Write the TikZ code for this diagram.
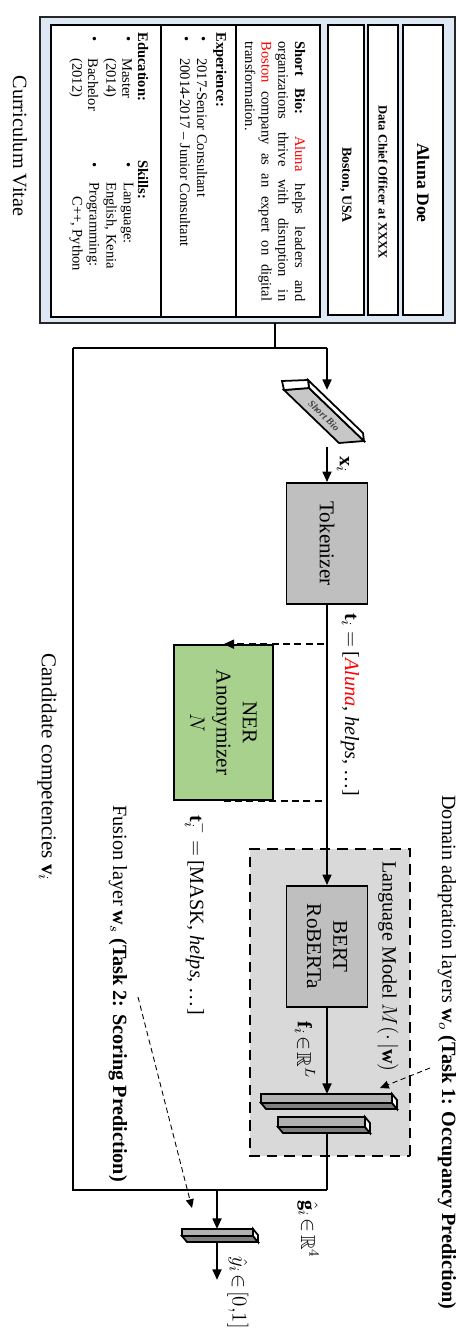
\documentclass[tikz,border=0pt]{standalone}
\usepackage{fontspec}
\setmainfont{Liberation Serif}
\usepackage{amssymb}
\usepackage{tikz}
\usetikzlibrary{arrows}
\usetikzlibrary{arrows.meta}
\usetikzlibrary{positioning}

\definecolor{cvblue}{HTML}{DDE8F4}
\definecolor{nergreen}{HTML}{A9D18E}
\newcommand{\lblfont}{\fontsize{11.5}{15}\selectfont}
\newcommand{\boxfont}{\fontsize{12}{15}\selectfont}
\newcommand{\cvfont}{\fontsize{8.3}{9.5}\selectfont}

% flat 3D layer: \layer{u}{v from}{v to}{thickness}
\newcommand{\layer}[4]{%
  \filldraw[fill=black!50, draw=black, line width=1pt] (#1+#4,#2) -- (#1+#4,#3) -- (#1+#4+6,#3+5) -- (#1+#4+6,#2+5) -- cycle;
  \filldraw[fill=white, draw=black, line width=1pt] (#1,#3) -- (#1+6,#3+5) -- (#1+#4+6,#3+5) -- (#1+#4,#3) -- cycle;
  \filldraw[fill=black!30, draw=black, line width=1pt] (#1,#2) rectangle (#1+#4,#3);
}

\begin{document}
\begin{tikzpicture}[>={Triangle[length=6pt,width=5pt]}, x=0.02cm, y=0.02cm]
  \tikzset{
    frame/.style={draw=black, line width=1pt, fill=white, inner sep=0pt},
    block/.style={draw=black, line width=1pt, fill=black!25, minimum width=2.42cm, minimum height=1.62cm, align=center, font=\boxfont},
    flow/.style={line width=1.3pt},
    branch/.style={line width=1.3pt, dash pattern=on 4pt off 2.5pt},
    pointer/.style={densely dashed, line width=0.5pt, -{Triangle[length=5pt,width=4.5pt]}},
    lbl/.style={anchor=west, inner sep=0pt, font=\lblfont},
    cvline/.style={anchor=west, inner sep=0pt, font=\cvfont},
    cvhead/.style={anchor=west, inner sep=0pt, font=\cvfont\bfseries}
  }
\begin{scope}[rotate=-90, transform shape]
  \useasboundingbox (0,0) rectangle (1331,461);

  % the CV card
  \node[draw=black!85, line width=1.3pt, fill=cvblue, minimum width=6.12cm, minimum height=8.3cm] (cv) at (170,247.5) {};
  \node[frame, minimum width=5.8cm, minimum height=0.8cm] (namebox) at (170,423) {};
  \node[frame, minimum width=5.8cm, minimum height=0.6cm] (jobbox) at (170,383) {};
  \node[frame, minimum width=5.8cm, minimum height=0.72cm] (citybox) at (170,346) {};
  \node[frame, minimum width=5.84cm, minimum height=5.38cm] (infobox) at (171,185.5) {};
  \draw[line width=1pt] (25,236) -- (317,236);
  \draw[line width=1pt] (25,161) -- (317,161);

  \node[font=\bfseries\fontsize{10}{12}\selectfont] (name) at (183,423) {Aluna Doe};
  \node[font=\bfseries\fontsize{7.2}{9}\selectfont] (job) at (182,383) {Data Chief Officer at XXXX};
  \node[font=\bfseries\fontsize{7.9}{9}\selectfont] (city) at (185,346) {Boston, USA};

  \node[cvline, align=left] (bio) at (41,275) {%
    \makebox[5.2cm][s]{\textbf{Short Bio:} \textcolor{red}{Aluna} helps leaders and}\\
    \makebox[5.2cm][s]{organizations thrive with disruption in}\\
    \makebox[5.2cm][s]{\textcolor{red}{Boston} company as an expert on digital}\\
    transformation.};

  \node[cvhead] (exphead) at (32,220) {Experience:};
  \node[cvline] (expdot1) at (36,202) {\textbullet};
  \node[cvline] (exp1) at (58,202) {2017-Senior Consultant};
  \node[cvline] (expdot2) at (36,185) {\textbullet};
  \node[cvline] (exp2) at (58,185) {20014-2017 – Junior Consultant};

  \node[cvhead] (eduhead) at (32,143) {Education:};
  \node[cvline] (edudot1) at (36,127) {\textbullet};
  \node[cvline] (edu1) at (58,127) {Master};
  \node[cvline] (edu2) at (58,110) {(2014)};
  \node[cvline] (edudot2) at (36,93) {\textbullet};
  \node[cvline] (edu3) at (58,93) {Bachelor};
  \node[cvline] (edu4) at (58,76) {(2012)};

  \node[cvhead] (skillhead) at (160,143) {Skills:};
  \node[cvline] (skilldot1) at (162,127) {\textbullet};
  \node[cvline] (skill1) at (182,127) {Language:};
  \node[cvline] (skill2) at (182,110) {English, Kenia};
  \node[cvline] (skilldot2) at (162,93) {\textbullet};
  \node[cvline] (skill3) at (182,93) {Programming:};
  \node[cvline] (skill4) at (196,76) {C++, Python};

  \node[font=\lblfont] (cvtitle) at (146,20) {Curriculum Vitae};

  % rails around the model
  \coordinate (cvout) at (323,275);
  \coordinate (split) at (348,275);
  \coordinate (railtop) at (348,73);
  \coordinate (railbio) at (348,327);
  \coordinate (railbot) at (1190,73);
  \coordinate (merge) at (1190,327);
  \coordinate (fuse) at (1190,217);
  \draw[flow] (cvout) -- (split);
  \draw[flow] (railtop) -- (railbio);
  \draw[flow] (railtop) -- (railbot) -- (merge);

  % short bio slab
  \filldraw[fill=black!22, draw=black, line width=1pt] (390,284) -- (388,309) -- (441,364) -- (443,339) -- cycle;
  \filldraw[fill=white, draw=black, line width=1pt] (380,308) -- (388,309) -- (441,364) -- (433,363) -- cycle;
  \filldraw[fill=white, draw=black, line width=1pt] (381,282) -- (380,308) -- (388,309) -- (390,284) -- cycle;
  \node[rotate=46, inner sep=0pt, font=\bfseries\itshape\fontsize{5.6}{6}\selectfont, text=black!75] (biotag) at (415.5,324) {Short Bio};
  \coordinate (bioin) at (390,327);
  \coordinate (bioout) at (447,327);
  \draw[flow, ->] (railbio) -- (bioin);

  % tokenizer and anonymizer
  \node[block] (tok) at (543.5,327) {Tokenizer};
  \draw[flow, ->] (bioout) -- (tok);
  \node[lbl] (xlbl) at (456,343) {$\mathbf{x}_i$};
  \node[lbl] (tlbl) at (613,350) {$\mathbf{t}_i=\,$[\textcolor{red}{\textit{Aluna}}, \textit{helps}, \dots]};

  \node[block, fill=nergreen, minimum width=3.1cm, minimum height=1.98cm] (ner) at (722.5,223.5) {NER\\Anonymizer\\$N$};
  \coordinate (fork) at (624,327);
  \coordinate (join) at (822,327);
  \draw[branch, ->] (fork) -| (ner.west);
  \draw[branch] (ner.east) |- (join);
  \node[lbl] (tmlbl) at (815,196) {$\mathbf{t}_i^{-}=\,$[MASK, \textit{helps}, \dots]};

  % language model
  \node[draw=black, line width=1.5pt, dash pattern=on 6pt off 4pt, fill=black!15, minimum width=6.14cm, minimum height=3.2cm] (dom) at (1002.5,330) {};
  \node[lbl] (lmlbl) at (861,388) {Language Model $M(\cdot\,|\mathbf{w})$};
  \node[block] (bert) at (946.5,327) {BERT\\RoBERTa};
  \draw[flow, ->] (tok) -- (bert);
  \node[lbl] (flbl) at (1021,305) {$\mathbf{f}_i\!\in\!\mathbb{R}^L$};

  \layer{1094}{261}{392}{9}
  \layer{1117}{278}{365}{10}
  \coordinate (l1in) at (1094,327);
  \coordinate (l2out) at (1133,327);
  \draw[flow, ->] (bert) -- (l1in);
  \draw[flow] (l2out) -- (merge);

  % fusion layer
  \layer{1229}{182}{253}{7}
  \coordinate (fusein) at (1229,217);
  \coordinate (fuseout) at (1242,217);
  \coordinate (yout) at (1280,217);
  \draw[flow, ->] (fuse) -- (fusein);
  \draw[flow, ->] (fuseout) -- (yout);
  \node[lbl] (glbl) at (1200,308) {$\hat{\mathbf{g}}_i\!\in\!\mathbb{R}^4$};
  \node[lbl] (ylbl) at (1256,238) {$\hat{y}_i\!\in\![0{,}1]$};

  % task labels
  \node[lbl] (domlbl) at (795,447) {Domain adaptation layers $\mathbf{w}_o$ \textbf{(Task 1: Occupancy Prediction)}};
  \node[lbl] (fuslbl) at (805,118) {Fusion layer $\mathbf{w}_s$ \textbf{(Task 2: Scoring Prediction)}};
  \node[lbl, font=\boxfont] (candlbl) at (653,47) {Candidate competencies $\mathbf{v}_i$};
  \coordinate (domtail) at (1068,430);
  \coordinate (domhead) at (1088,380);
  \coordinate (fustail) at (997,138);
  \coordinate (fushead) at (1208,192);
  \draw[pointer] (domtail) -- (domhead);
  \draw[pointer] (fustail) -- (fushead);
\end{scope}
\end{tikzpicture}
\end{document}
